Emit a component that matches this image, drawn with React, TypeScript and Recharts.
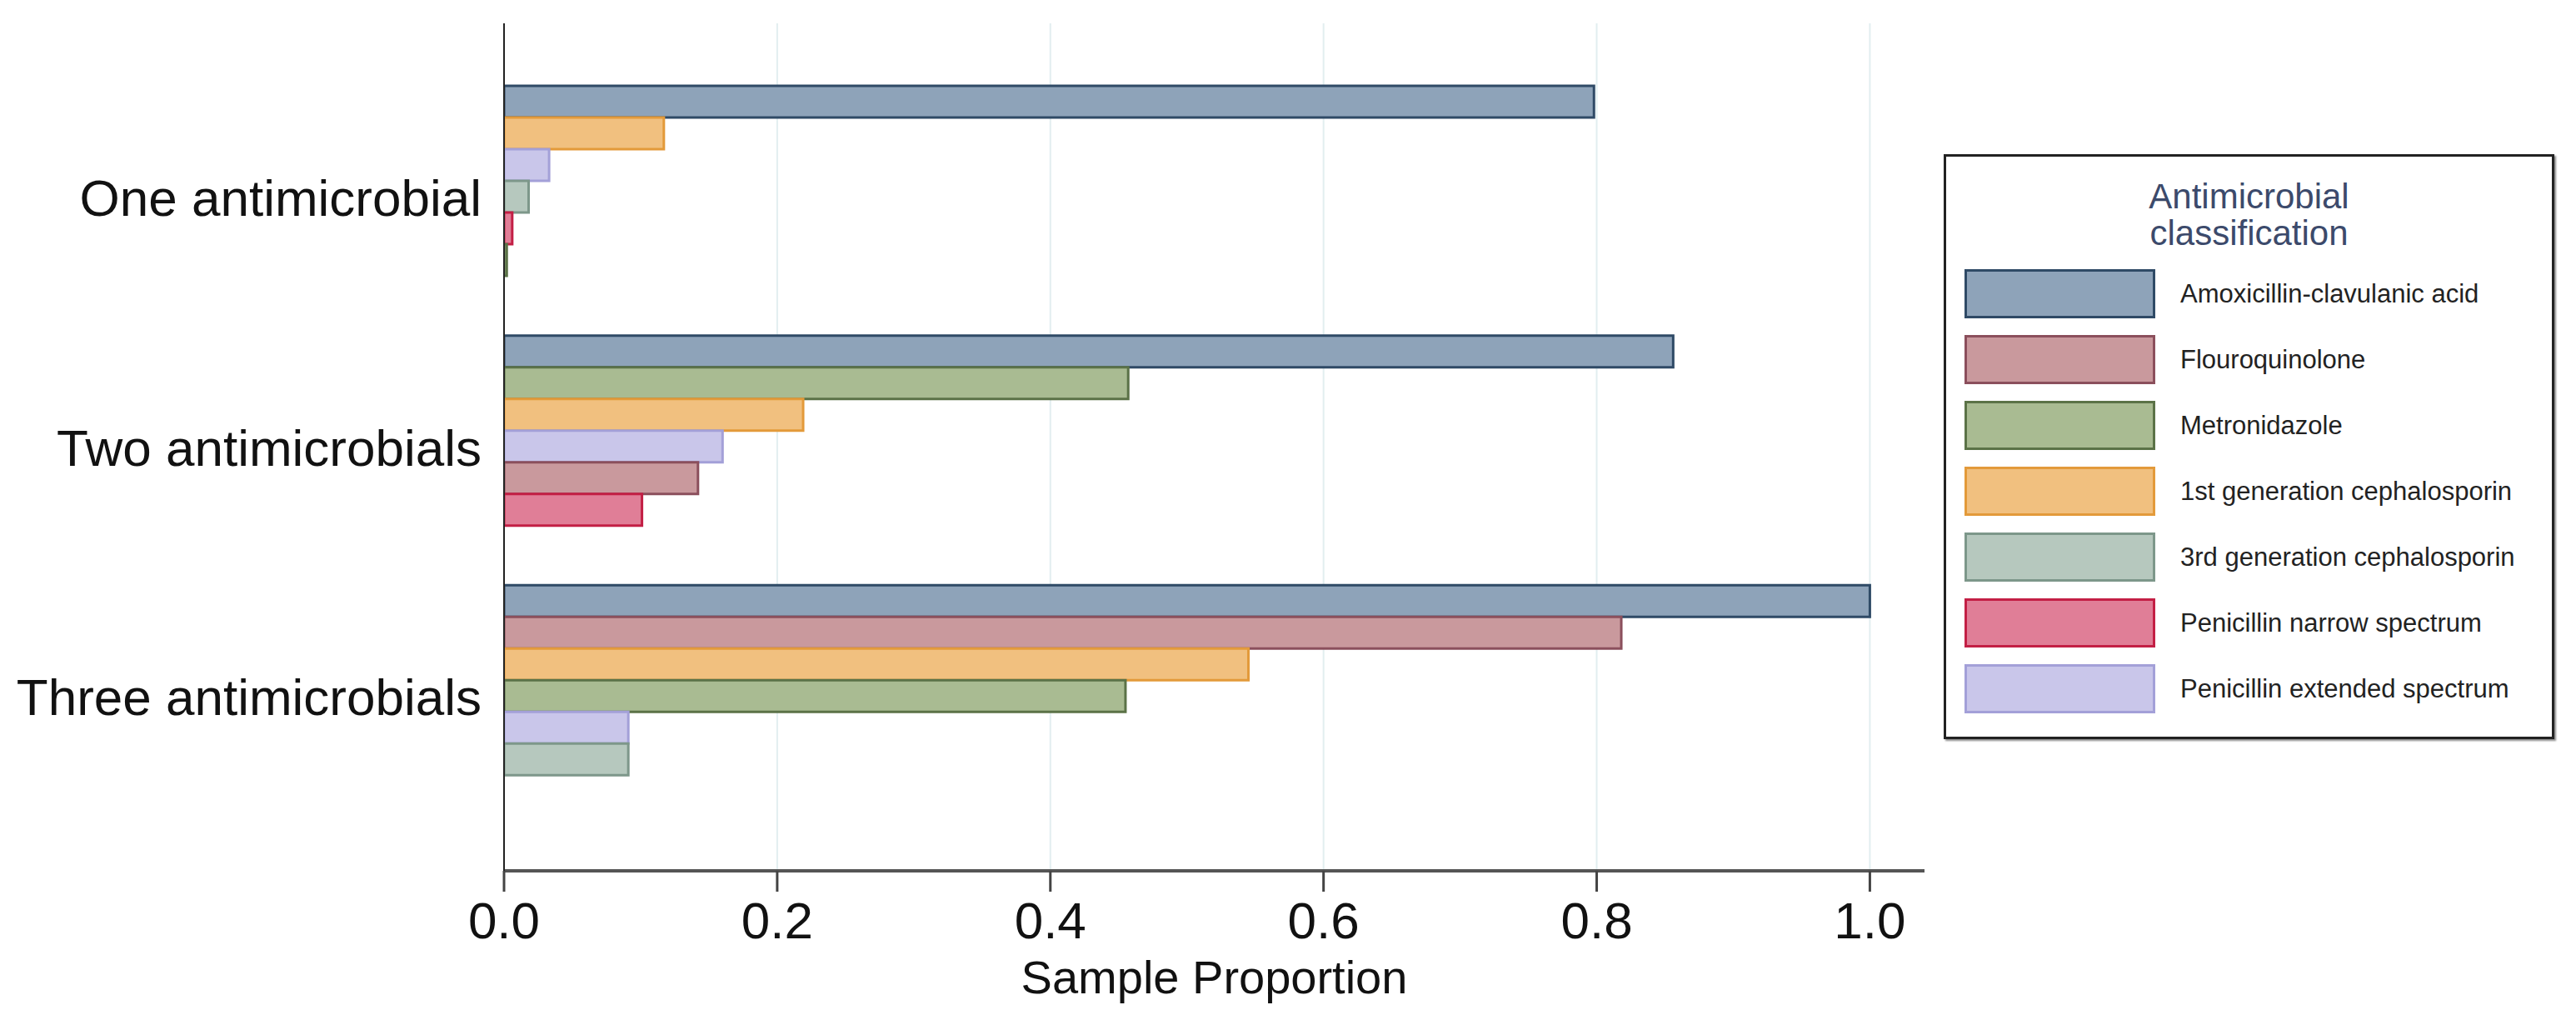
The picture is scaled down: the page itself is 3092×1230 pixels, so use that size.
import React from 'react';
import { BarChart, Bar, XAxis, YAxis, CartesianGrid, Cell, Label } from 'recharts';

const groups = ['One antimicrobial', 'Two antimicrobials', 'Three antimicrobials'];

const drugs = [
  'Amoxicillin-clavulanic acid',
  'Flouroquinolone',
  'Metronidazole',
  '1st generation cephalosporin',
  '3rd generation cephalosporin',
  'Penicillin narrow spectrum',
  'Penicillin extended spectrum',
];

const fills = ['#8ea3b9', '#c9999d', '#a9bb92', '#f1c07f', '#b6c8be', '#e07e97', '#c9c6ea'];
const strokes = ['#2f4a66', '#8b4f5c', '#5b7247', '#e39a3a', '#7d978a', '#c31f45', '#a3a0d8'];

// proportions per drug, same order as `drugs`
const oneValues = [0.798, 0, 0.002, 0.117, 0.018, 0.006, 0.033];
const twoValues = [0.856, 0.142, 0.457, 0.219, 0, 0.101, 0.16];
const threeValues = [1.0, 0.818, 0.455, 0.545, 0.091, 0, 0.091];

// drawing order of the bars inside each group (top to bottom)
const oneOrder = [0, 3, 6, 4, 5, 2, 1];
const twoOrder = [0, 2, 3, 6, 1, 5, 4];
const threeOrder = [0, 1, 3, 2, 6, 4, 5];

const xTicks = [0, 0.2, 0.4, 0.6, 0.8, 1.0];
const X_MAX = 1.04;

const groupValues = [oneValues, twoValues, threeValues];
const groupOrders = [oneOrder, twoOrder, threeOrder];

const data = groups.map((g, gi) => {
  const row: Record<string, any> = { group: g };
  groupOrders[gi].forEach((d, k) => {
    row[`s${k}`] = groupValues[gi][d];
    row[`d${k}`] = d;
  });
  return row;
});

const FONT = '"Liberation Sans", Arial, sans-serif';

// vertical grid only at the labelled ticks (not at the end of the domain)
const gridX = ({ xAxis, offset }: any) => {
  if (xAxis && typeof xAxis.scale === 'function') {
    return xTicks.map((t) => xAxis.scale(t));
  }
  return xTicks.map((t) => offset.left + (t / X_MAX) * offset.width);
};

const App: React.FC = () => {
  return (
    <div style={{ position: 'relative', width: 3092, height: 1230, background: '#fff', fontFamily: FONT }}>
      <style>{`body{margin:0;}`}</style>
      <BarChart
        width={3092}
        height={1230}
        data={data}
        layout="vertical"
        margin={{ top: 28, right: 782, bottom: 25, left: 0 }}
        barCategoryGap={16}
        barGap={0}
      >
        <CartesianGrid horizontal={false} stroke="#e2eef0" strokeWidth={2} verticalCoordinatesGenerator={gridX} />
        <XAxis
          type="number"
          domain={[0, X_MAX]}
          ticks={xTicks}
          allowDataOverflow
          height={160}
          tickFormatter={(v: number) => v.toFixed(1)}
          axisLine={{ stroke: '#555', strokeWidth: 4 }}
          tickLine={{ stroke: '#444', strokeWidth: 3 }}
          tickSize={25}
          tickMargin={12}
          tick={{ fontSize: 62, fill: '#111', fontFamily: FONT }}
        >
          <Label
            value="Sample Proportion"
            position="insideBottom"
            offset={13}
            style={{ fontSize: 56, fill: '#111', fontFamily: FONT }}
          />
        </XAxis>
        <YAxis
          type="category"
          dataKey="group"
          width={605}
          padding={{ top: 59, bottom: 59 }}
          axisLine={{ stroke: '#222', strokeWidth: 2 }}
          tickLine={false}
          tickSize={0}
          tickMargin={27}
          tick={{ fontSize: 62, fill: '#111', fontFamily: FONT }}
        />
        {oneOrder.map((_, k) => (
          <Bar key={k} dataKey={`s${k}`} isAnimationActive={false} strokeWidth={3}>
            {data.map((row, i) => (
              <Cell key={i} fill={fills[row[`d${k}`]]} stroke={strokes[row[`d${k}`]]} />
            ))}
          </Bar>
        ))}
      </BarChart>

      <div
        style={{
          position: 'absolute',
          left: 2333,
          top: 185,
          width: 733,
          height: 702,
          boxSizing: 'border-box',
          border: '3px solid #222',
          boxShadow: '2px 2px 2px #888',
          background: '#fff',
        }}
      >
        <div
          style={{
            position: 'absolute',
            left: 0,
            right: 0,
            top: 26,
            textAlign: 'center',
            fontSize: 42,
            lineHeight: '44px',
            color: '#3c4a6b',
          }}
        >
          Antimicrobial
          <br />
          classification
        </div>
        {drugs.map((d, i) => (
          <div
            key={d}
            style={{ position: 'absolute', left: 22, top: 135 + i * 79, height: 59, display: 'flex', alignItems: 'center' }}
          >
            <div
              style={{
                width: 229,
                height: 59,
                boxSizing: 'border-box',
                background: fills[i],
                border: `3px solid ${strokes[i]}`,
              }}
            />
            <span style={{ marginLeft: 30, fontSize: 31, color: '#222', whiteSpace: 'nowrap' }}>{d}</span>
          </div>
        ))}
      </div>
    </div>
  );
};

export default App;
